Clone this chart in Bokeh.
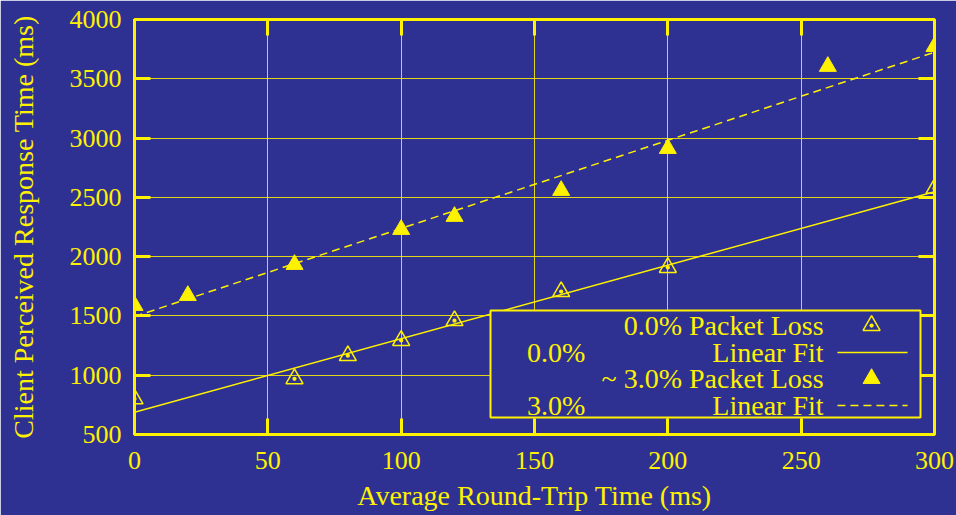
from bokeh.plotting import figure
from bokeh.models import Range1d, FixedTicker, LinearAxis, BoxAnnotation, Label
from bokeh.embed import file_html
from bokeh.resources import INLINE

# ---- data ----
rtt_0 = [0, 60, 80, 100, 120, 160, 200, 300]
resp_0 = [800, 970, 1165, 1293, 1460, 1705, 1908, 2575]
rtt_3 = [0, 20, 60, 100, 120, 160, 200, 260, 300]
resp_3 = [1588, 1672, 1934, 2229, 2339, 2558, 2912, 3604, 3772]
fit_x = [0, 300]
fit_0 = [688, 2548]
fit_3 = [1495, 3724]
x_ticks = [0, 50, 100, 150, 200, 250, 300]
y_ticks = [500, 1000, 1500, 2000, 2500, 3000, 3500, 4000]
legend_labels = ["0.0% Packet Loss", "Linear Fit", "~ 3.0% Packet Loss", "Linear Fit"]
legend_pct = ["", "0.0%", "", "3.0%"]

BG = "#2e3192"
YEL = "#fff200"
FONT = "Liberation Serif"

p = figure(width=956, height=515, output_backend="svg", toolbar_location=None,
           x_range=Range1d(0, 300), y_range=Range1d(500, 4000),
           min_border_left=134, min_border_right=22, min_border_top=19, min_border_bottom=81)
p.background_fill_color = BG
p.border_fill_color = BG
p.outline_line_color = YEL
p.outline_line_width = 3

for ax in (p.xaxis[0], p.yaxis[0]):
    ax.axis_line_color = None
    ax.major_tick_line_color = YEL
    ax.major_tick_line_width = 3
    ax.major_tick_in = 16
    ax.major_tick_out = 0
    ax.minor_tick_in = 0
    ax.minor_tick_out = 0
    ax.major_label_text_color = YEL
    ax.major_label_text_font = FONT
    ax.major_label_text_font_size = "26px"
    ax.axis_label_text_color = YEL
    ax.axis_label_text_font = FONT
    ax.axis_label_text_font_size = "28px"
    ax.axis_label_text_font_style = "normal"

p.xaxis[0].ticker = FixedTicker(ticks=x_ticks)
p.yaxis[0].ticker = FixedTicker(ticks=y_ticks)
p.xaxis[0].axis_label = "Average Round-Trip Time (ms)"
p.yaxis[0].axis_label = "Client Perceived Response Time (ms)"
p.xaxis[0].major_label_standoff = 17
p.yaxis[0].major_label_standoff = 13
p.xaxis[0].axis_label_standoff = 8
p.yaxis[0].axis_label_standoff = 28

for loc, tick in (("above", x_ticks), ("right", y_ticks)):
    ax = LinearAxis(ticker=FixedTicker(ticks=tick))
    ax.axis_line_color = None
    ax.major_tick_line_color = YEL
    ax.major_tick_line_width = 3
    ax.major_tick_in = 16
    ax.major_tick_out = 0
    ax.minor_tick_in = 0
    ax.minor_tick_out = 0
    ax.major_label_text_color = None
    ax.major_label_text_font_size = "1px"
    ax.major_label_standoff = 0
    p.add_layout(ax, loc)

p.xgrid.ticker = FixedTicker(ticks=x_ticks)
p.ygrid.ticker = FixedTicker(ticks=y_ticks)
for g in (p.xgrid[0], p.ygrid[0]):
    g.grid_line_color = YEL
    g.grid_line_alpha = 0.85
    g.grid_line_width = 1

# fits
p.line(fit_x, fit_0, line_color=YEL, line_width=1.5)
p.line(fit_x, fit_3, line_color=YEL, line_width=1.5, line_dash="8 5")
# points
p.scatter(rtt_0, resp_0, marker="triangle_dot", size=17, fill_color=None,
          line_color=YEL, line_width=1.5)
p.scatter(rtt_3, resp_3, marker="triangle", size=17, fill_color=YEL,
          line_color=YEL, line_width=1)

# ---- legend box ----
box = BoxAnnotation(left=133.5, right=294.75, top=1546, bottom=643,
                    fill_color=BG, fill_alpha=1.0, line_color=YEL, line_alpha=1.0,
                    line_width=2)
p.add_layout(box)
row_y = [1419, 1192, 972, 745]
for lab, pct, yy in zip(legend_labels, legend_pct, row_y):
    p.add_layout(Label(x=258.4, y=yy, text=lab, text_align="right", text_baseline="middle",
                       text_color=YEL, text_font=FONT, text_font_size="28px"))
    if pct:
        p.add_layout(Label(x=169.1, y=yy, text=pct, text_align="right", text_baseline="middle",
                           text_color=YEL, text_font=FONT, text_font_size="28px"))
r1 = p.scatter([276.4], [row_y[0]], marker="triangle_dot", size=17, fill_color=None,
               line_color=YEL, line_width=1.5)
r2 = p.line([263.6, 289.9], [row_y[1], row_y[1]], line_color=YEL, line_width=1.5)
r3 = p.scatter([276.4], [row_y[2]], marker="triangle", size=17, fill_color=YEL, line_color=YEL)
r4 = p.line([263.6, 289.9], [row_y[3], row_y[3]], line_color=YEL, line_width=1.5, line_dash="8 5")
for r in (r1, r2, r3, r4):
    r.level = "overlay"

open("out.html", "w").write(file_html(p, INLINE))
